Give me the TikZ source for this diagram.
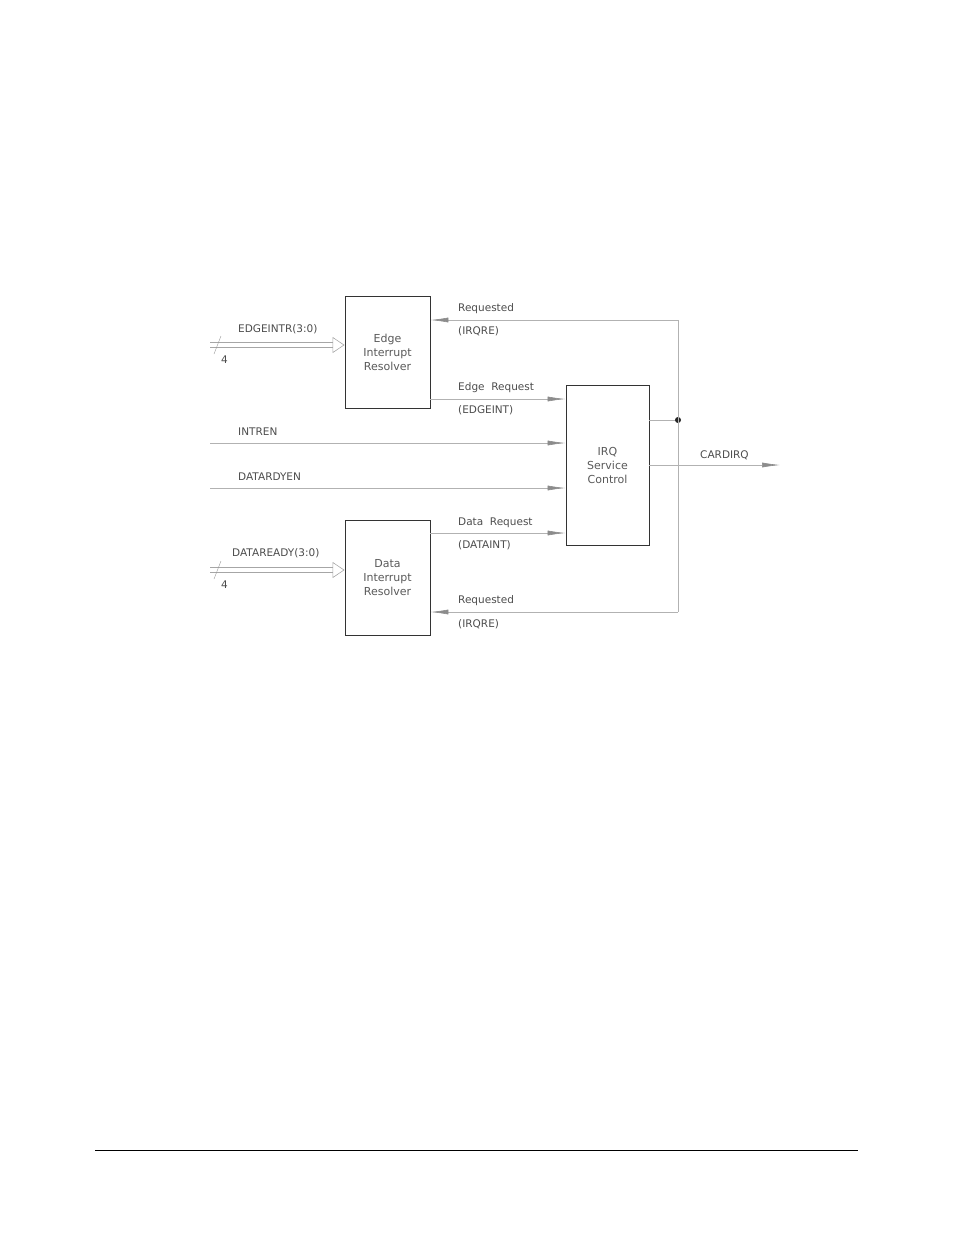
\documentclass[tikz,border=0pt]{standalone}
\usepackage{fontspec}
\setsansfont{DejaVu Sans}
\usetikzlibrary{arrows.meta, positioning, calc}
\tikzset{
    block/.style={draw=black!80, line width=0.9pt, minimum width=85pt, align=center, font=\sffamily\fontsize{11}{14}\selectfont\color{black!65}},
    sig/.style={draw=black!30, line width=0.6pt},
    tip/.style={-{Latex[length=18pt, width=5pt, fill=black!45, color=black!45]}},
    lbl/.style={anchor=west, inner sep=0pt, font=\sffamily\fontsize{10.5}{12}\selectfont\color{black!70}},
    bus/.style={draw=black!35, double, double distance=4pt, line width=0.6pt, -{Triangle[open, length=12pt, width=16pt]}},
}
\begin{document}
\begin{tikzpicture}[x=1pt, y=-1pt]
    \useasboundingbox (0,0) rectangle (954,1235);

    \node[block, minimum height=112pt] (edge) at (387.5,352) {Edge\\Interrupt\\Resolver};
    \node[block, minimum height=115pt] (data) at (387.5,577.5) {Data\\Interrupt\\Resolver};
    \node[block, minimum width=83pt, minimum height=160pt] (irq) at (607.5,465) {IRQ\\Service\\Control};

    \coordinate (dot) at (678,420);
    \coordinate (topr) at (678,320);
    \coordinate (botr) at (678,612);
    \coordinate (inA) at (210,443);
    \coordinate (inB) at (210,488);
    \coordinate (out) at (780,465);
    \coordinate (busA) at (210,345);
    \coordinate (busB) at (210,570);

    % feedback
    \draw[sig] (irq.east |- dot) -- (dot);
    \fill[black!85] (dot) circle (3pt);
    \draw[sig] (topr) -- (botr);
    \draw[sig, tip] (topr) -- (edge.east |- topr);
    \draw[sig, tip] (botr) -- (data.east |- botr);

    % requests
    \draw[sig, tip] (edge.east |- 0,399) -- (irq.west |- 0,399);
    \draw[sig, tip] (data.east |- 0,533) -- (irq.west |- 0,533);
    \draw[sig, tip] (inA) -- (irq.west |- inA);
    \draw[sig, tip] (inB) -- (irq.west |- inB);
    \draw[sig, tip] (irq.east |- out) -- (out);

    % buses
    \draw[bus] (busA) -- (edge.west |- busA);
    \draw[bus] (busB) -- (data.west |- busB);
    \draw[black!40] (214,354) -- (221,336);
    \draw[black!40] (214,579) -- (221,561);

    \node[lbl] at (458,309) {Requested};
    \node[lbl] at (458,331) {(IRQRE)};
    \node[lbl] at (458,388) {Edge\ \ Request};
    \node[lbl] at (458,410) {(EDGEINT)};
    \node[lbl] at (458,523) {Data\ \ Request};
    \node[lbl] at (458,545) {(DATAINT)};
    \node[lbl] at (458,601) {Requested};
    \node[lbl] at (458,624) {(IRQRE)};
    \node[lbl] at (238,432) {INTREN};
    \node[lbl] at (238,477) {DATARDYEN};
    \node[lbl] at (700,455) {CARDIRQ};
    \node[lbl] at (238,329) {EDGEINTR(3:0)};
    \node[lbl] at (232,553) {DATAREADY(3:0)};
    \node[lbl] at (221,360) {4};
    \node[lbl] at (221,585) {4};

    \draw[black, line width=0.8pt] (95,1150) -- (858,1150);
\end{tikzpicture}
\end{document}
